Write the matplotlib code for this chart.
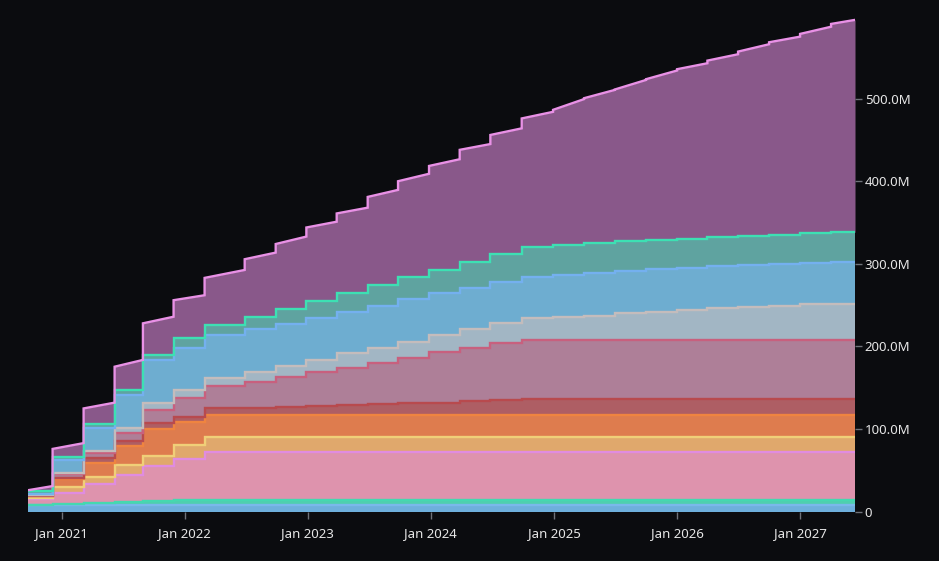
import matplotlib
matplotlib.use("Agg")
import matplotlib.pyplot as plt
import matplotlib.dates as mdates
import matplotlib.ticker as mticker
import numpy as np
import pandas as pd

# dates where each quarterly unlock happens (first = start of data, last = end of data)
dates = ["2020-09-23", "2020-12-05", "2021-03-07", "2021-06-07", "2021-08-30",
         "2021-11-29", "2022-03-01", "2022-06-28", "2022-09-28", "2022-12-28",
         "2023-03-28", "2023-06-28", "2023-09-26", "2023-12-27", "2024-03-27",
         "2024-06-26", "2024-09-27", "2024-12-29", "2025-03-31", "2025-06-30",
         "2025-10-01", "2026-01-01", "2026-04-01", "2026-07-01", "2026-10-01",
         "2027-01-01", "2027-04-03", "2027-06-13"]

# stacked level (top edge, in millions) of each series for each quarter
lvl_base = [8, 8, 8, 8, 8, 8, 8, 8, 8, 8, 8, 8, 8, 8, 8, 8, 8, 8, 8, 8, 8, 8, 8, 8, 8, 8, 8]
lvl_teal = [8.5, 9.5, 10.5, 11.5, 13, 14, 14, 14, 14, 14, 14, 14, 14, 14, 14, 14, 14, 14,
            14, 14, 14, 14, 14, 14, 14, 14, 14]
lvl_pink = [15, 22.5, 33.5, 44.4, 55.3, 63.8, 72.6, 72.6, 72.6, 72.6, 72.6, 72.6, 72.6, 72.6,
            72.6, 72.6, 72.6, 72.6, 72.6, 72.6, 72.6, 72.6, 72.6, 72.6, 72.6, 72.6, 72.6]
lvl_yellow = [17, 30, 42.4, 56, 68, 80.7, 90, 90, 90, 90, 90, 90, 90, 90, 90, 90, 90, 90,
              90, 90, 90, 90, 90, 90, 90, 90, 90]
lvl_orange = [19, 39, 58.6, 79, 100, 108, 117, 117, 117, 117, 117, 117, 117, 117, 117, 117,
              117, 117, 117, 117, 117, 117, 117, 117, 117, 117, 117]
lvl_red = [19.5, 41, 65, 86, 107, 115, 125, 126, 127, 128, 129, 130, 131, 132, 133.5, 135,
           136.4, 136.4, 136.4, 136.4, 136.4, 136.4, 136.4, 136.4, 136.4, 136.4, 136.4]
lvl_mauve = [20, 45.5, 70.5, 95, 123, 137.3, 152.5, 157.4, 163.4, 169.5, 173.6, 179.7, 185.7,
             193.7, 197.8, 203.9, 207.9, 207.9, 207.9, 207.9, 207.9, 207.9, 207.9, 207.9,
             207.9, 207.9, 207.9]
lvl_grey = [20.5, 47, 74, 101.7, 131.2, 147.3, 161.5, 169.5, 176.4, 183.7, 191.8, 197.8,
            205.8, 214, 220.8, 228, 234, 235.3, 237, 240, 242, 244, 246, 248, 249.5, 251, 252]
lvl_blue = [22, 62.6, 101.7, 141.3, 183.7, 197.8, 214, 220.8, 227, 235, 242, 249, 257, 264.4,
            270.5, 278.5, 284.5, 286.6, 289.4, 291.8, 293.5, 295, 297, 299, 300, 301.5, 302.7]
lvl_green = [25, 65.9, 105.8, 147.3, 189.7, 210, 226, 236, 245, 255, 264.4, 274.5, 283.8,
             292.6, 302.7, 312, 320.8, 322.9, 325, 327.7, 329, 330.5, 332, 334, 335.5, 337, 338.2]
# total at the start and at the end of each quarter (linear vesting in between)
total_open = [26, 76, 125, 175.5, 228, 256, 283, 305.6, 324, 344, 361, 381, 400, 418.5, 438,
              456, 476, 486.4, 500.5, 511, 523.5, 535.6, 546, 556.9, 568.2, 578.3, 590.4]
total_close = [31, 83, 132, 183.7, 236, 262, 292.6, 313.6, 333, 351, 368, 389.5, 409, 426.6,
               445, 464, 484, 499.4, 510.5, 522.6, 534, 542.8, 553.7, 565.8, 575, 587, 595.3]

fills = ["#6eafdc", "#4fcfae", "#de93ad", "#e0a86c", "#de7c4e", "#ae5e64",
         "#ae7f98", "#a2b6c4", "#6eadd0", "#5fa3a0", "#89588a"]
lines = ["#7ab8ea", "#45d8b0", "#e08ce0", "#f0cf78", "#ef8440", "#b84a4e",
         "#c8607e", "#c4bcbc", "#74b0ef", "#3de0b3", "#e991e6"]

d = pd.to_datetime(dates)
# each quarter runs from its date to the next one; jumps are vertical
x = np.repeat(d.values, 2)[1:-1]

levels = [lvl_base, lvl_teal, lvl_pink, lvl_yellow, lvl_orange, lvl_red,
          lvl_mauve, lvl_grey, lvl_blue, lvl_green]
ys = [np.repeat(np.array(l) * 1e6, 2) for l in levels]
ys.append(np.column_stack([total_open, total_close]).ravel() * 1e6)

bg = "#0b0c0f"
fig = plt.figure(figsize=(9.39, 5.61), dpi=100, facecolor=bg)
ax = fig.add_axes([28 / 939, 1 - 511.7 / 561, (855 - 28) / 939, (511.7 - 16) / 561])
ax.set_facecolor(bg)

lower = np.zeros(len(x))
for i, y in enumerate(ys):
    ax.fill_between(x, lower, y, color=fills[i], lw=0)
    lower = y
for i, y in enumerate(ys):
    ax.plot(x, y, color=lines[i], lw=1.7, solid_joinstyle="miter")

ax.set_xlim(d[0], d[-1])
ax.set_ylim(0, 600e6)

ax.yaxis.tick_right()
ax.set_yticks([0, 100e6, 200e6, 300e6, 400e6, 500e6])
ax.yaxis.set_major_formatter(mticker.FuncFormatter(
    lambda v, p: "0" if v == 0 else "%.1fM" % (v / 1e6)))
ax.xaxis.set_major_locator(mdates.YearLocator())
ax.xaxis.set_major_formatter(mdates.DateFormatter("Jan %Y"))

for s in ax.spines.values():
    s.set_visible(False)
ax.tick_params(axis="both", colors="#6e7279", length=5, width=1,
               labelcolor="#e6e6e6", labelsize=9.5)
ax.tick_params(axis="x", pad=6)
ax.tick_params(axis="y", pad=2)
for lab in ax.get_xticklabels() + ax.get_yticklabels():
    lab.set_fontfamily("Noto Sans")

fig.savefig("out.png", dpi=100, facecolor=bg)
